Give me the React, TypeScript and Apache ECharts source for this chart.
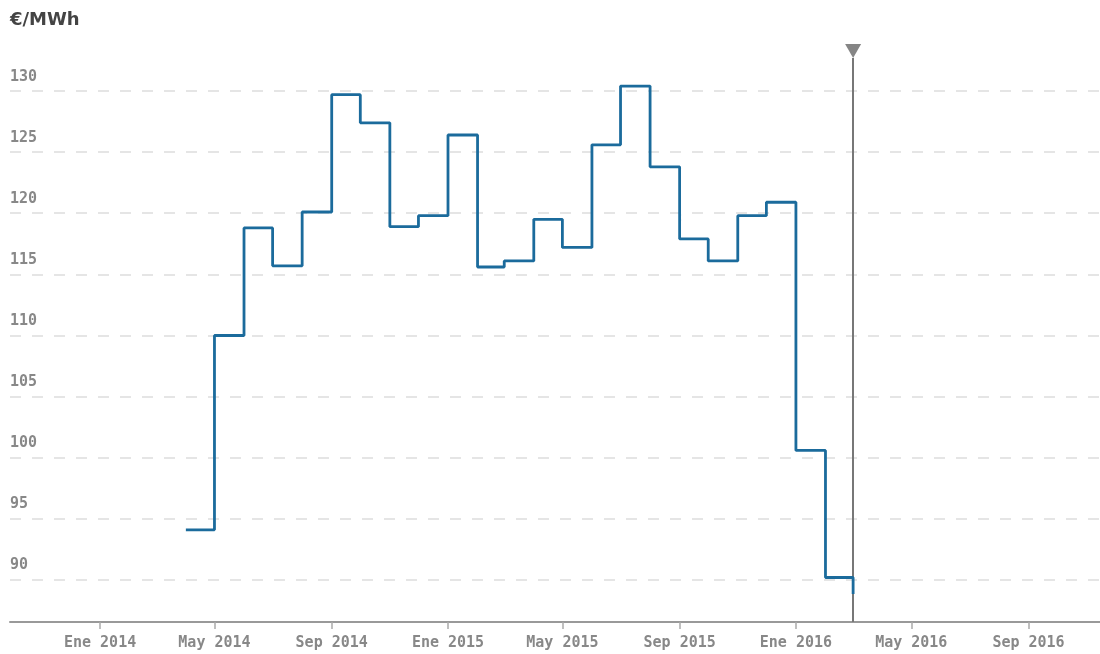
import React, { useEffect, useRef } from "react";
import * as echarts from "echarts";

const months = [
  "2014-04", "2014-05", "2014-06", "2014-07", "2014-08", "2014-09", "2014-10", "2014-11", "2014-12",
  "2015-01", "2015-02", "2015-03", "2015-04", "2015-05", "2015-06", "2015-07", "2015-08", "2015-09",
  "2015-10", "2015-11", "2015-12", "2016-01", "2016-02", "2016-03",
];
const prices = [
  94.1, 110.0, 118.8, 115.7, 120.1, 129.7, 127.4, 118.9, 119.8,
  126.4, 115.6, 116.1, 119.5, 117.2, 125.6, 130.4, 123.8, 117.9,
  116.1, 119.8, 120.9, 100.6, 90.2, 88.85,
];
const yTicks = [90, 95, 100, 105, 110, 115, 120, 125, 130];
const xTickDates = ["2014-01", "2014-05", "2014-09", "2015-01", "2015-05", "2015-09", "2016-01", "2016-05", "2016-09"];
const xTickLabels = ["Ene 2014", "May 2014", "Sep 2014", "Ene 2015", "May 2015", "Sep 2015", "Ene 2016", "May 2016", "Sep 2016"];
const todayMonth = "2016-03";
const unitLabel = "€/MWh";

const toTime = (ym: string) => {
  const [y, m] = ym.split("-").map(Number);
  return Date.UTC(y, m - 1, 1);
};

const Y_MIN = 86.56;
const Y_MAX = 132.7;

export default function App() {
  const ref = useRef<HTMLDivElement>(null);
  useEffect(() => {
    if (!ref.current) return;
    const chart = echarts.init(ref.current, undefined, { renderer: "svg" });
    const xTickValues = xTickDates.map(toTime);
    const today = toTime(todayMonth);
    const monoFont = "'DejaVu Sans Mono', monospace";
    chart.setOption({
      animation: false,
      title: {
        text: unitLabel,
        left: 10,
        top: 9,
        padding: 0,
        textStyle: { fontFamily: "'DejaVu Sans', sans-serif", fontWeight: "bold", fontSize: 18, color: "#444" },
      },
      grid: { left: 10, right: 0, top: 58, bottom: 32 },
      xAxis: {
        type: "value",
        min: Date.UTC(2013, 8, 28, 12),
        max: Date.UTC(2016, 10, 15),
        axisLine: { show: true, lineStyle: { color: "#999", width: 2 } },
        axisTick: { show: true, customValues: xTickValues, length: 7, lineStyle: { color: "#aaa", width: 1.5 } },
        axisLabel: {
          customValues: xTickValues,
          margin: 12,
          fontFamily: monoFont,
          fontWeight: "bold",
          fontSize: 15,
          color: "#888",
          formatter: (v: number) => {
            const i = xTickValues.indexOf(v);
            return i >= 0 ? xTickLabels[i] : "";
          },
        },
        splitLine: { show: false },
      },
      yAxis: {
        type: "value",
        min: Y_MIN,
        max: Y_MAX,
        axisLine: { show: false },
        axisTick: { show: false, customValues: yTicks },
        axisLabel: {
          customValues: yTicks,
          inside: true,
          margin: 0,
          align: "left",
          verticalAlign: "bottom",
          padding: [0, 0, 8, 0],
          fontFamily: monoFont,
          fontWeight: "bold",
          fontSize: 15,
          color: "#888",
        },
        splitLine: { show: true, lineStyle: { color: "#ddd", width: 1.5, type: [11, 11] } },
      },
      series: [
        {
          type: "scatter",
          data: [[today, Y_MAX]],
          symbol: "triangle",
          symbolSize: [16, 14],
          symbolRotate: 180,
          symbolOffset: [0, -7],
          itemStyle: { color: "#666" },
          silent: true,
          clip: false,
          z: 2,
          markLine: {
            silent: true,
            symbol: "none",
            label: { show: false },
            lineStyle: { color: "#777", width: 2, type: "solid" },
            data: [{ xAxis: today }],
          },
        },
        {
          type: "line",
          step: "end",
          data: months.map((m, i) => [toTime(m), prices[i]]),
          showSymbol: false,
          symbol: "none",
          lineStyle: { color: "#1b6b9c", width: 2.8 },
          z: 5,
        },
      ],
    });
    return () => chart.dispose();
  }, []);
  return <div ref={ref} style={{ position: "fixed", left: 0, top: 0, width: 1100, height: 654 }} />;
}
